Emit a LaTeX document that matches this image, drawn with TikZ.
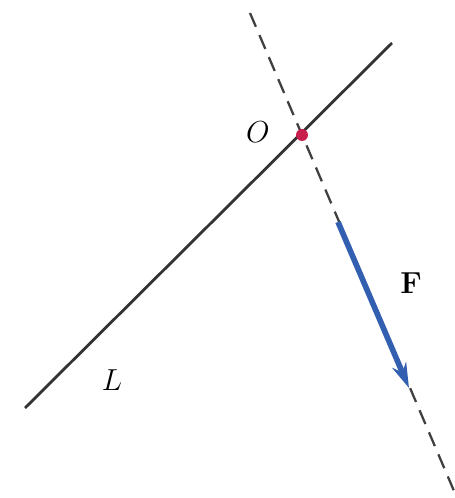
\documentclass[tikz,border=0pt]{standalone}
\usepackage{amsmath,amssymb}
\usetikzlibrary{arrows.meta,positioning,calc}
\definecolor{forceblue}{RGB}{50,95,175}
\definecolor{pivotred}{RGB}{200,30,75}
\begin{document}
\begin{tikzpicture}[x=0.02cm,y=0.02cm,
  >={Stealth[length=5mm,width=3mm]},
  axis/.style={black!80, line width=1.6pt},
  actline/.style={black!75, line width=1.3pt, dash pattern=on 3mm off 1.8mm},
  force/.style={forceblue, line width=3.2pt, ->},
  lab/.style={font=\fontsize{18}{20}\selectfont, inner sep=1pt},
]
\useasboundingbox (0,0) rectangle (455,498);
% line L and the line of action through O
\coordinate (La) at (25,90);
\coordinate (Lb) at (392,455);
\coordinate (Da) at (250,485);
\coordinate (Db) at (457,0);
\coordinate (O) at (302,363);
\coordinate (Fa) at (338,276);
\coordinate (Fb) at (409,110);
\draw[axis] (La)--(Lb);
\draw[actline] (Da)--(Db);
\draw[force] (Fa)--(Fb);
\fill[pivotred] (O) circle (6);
\node[lab] (Olab) at (258,366) {$O$};
\node[lab] (Flab) at (411,215) {$\mathbf{F}$};
\node[lab] (Llab) at (112,118) {$L$};
\end{tikzpicture}
\end{document}
